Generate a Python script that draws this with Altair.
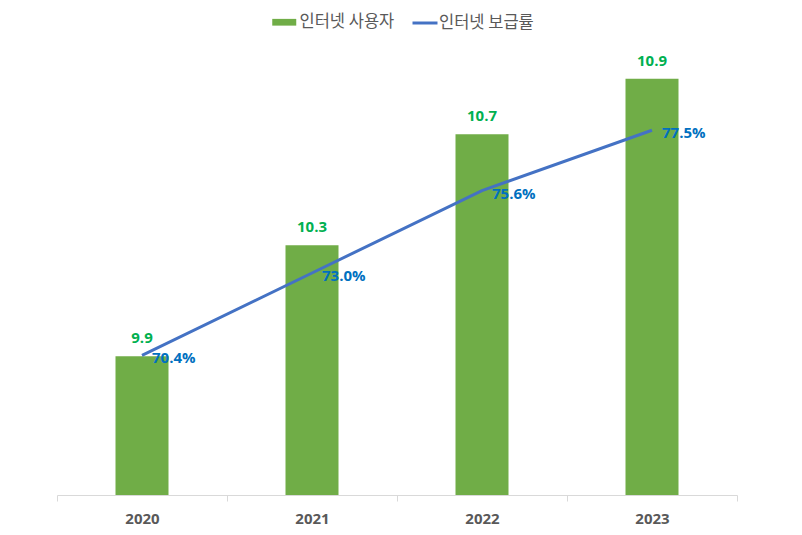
import altair as alt
import pandas as pd

years = ["2020", "2021", "2022", "2023"]
users = [9.9, 10.3, 10.7, 10.9]
rates = [70.4, 73.0, 75.6, 77.5]
rate_labels = ["70.4%", "73.0%", "75.6%", "77.5%"]

df = pd.DataFrame({
    "year": years,
    "users": users,
    "rate": rates,
    "rate_label": rate_labels,
    "s1": ["인터넷 사용자"] * 4,
    "s2": ["인터넷 보급률"] * 4,
})

FONT = "Open Sans"
KFONT = "Noto Sans CJK KR"

x = alt.X("year:N", title=None, scale=alt.Scale(paddingInner=0, paddingOuter=0),
          axis=alt.Axis(labelAngle=0, labelFont=FONT, labelFontWeight="bold", labelFontSize=15,
                        labelColor="#595959", domainColor="#d9d9d9", tickColor="#d9d9d9",
                        tickSize=6, tickBand="extent", labelPadding=10, grid=False))

ybar = alt.Y("users:Q", scale=alt.Scale(domain=[9.4, 11.0], zero=False, nice=False), axis=None)
yline = alt.Y("rate:Q", scale=alt.Scale(domain=[66, 80], zero=False, nice=False), axis=None)

base = alt.Chart(df)

bars = base.mark_bar(size=53, clip=True).encode(
    x=x, y=ybar,
    color=alt.Color("s1:N", scale=alt.Scale(range=["#70AD47"]),
                    legend=alt.Legend(title=None, orient="none", legendX=219, legendY=-37,
                                      symbolType="M-1.6,-0.45H1.6V0.45H-1.6Z", symbolSize=225,
                                      symbolStrokeWidth=0, labelFont=KFONT, labelFontSize=16.5,
                                      labelBaseline="middle",
                                      labelColor="#595959", labelOffset=7)),
)
bar_text = base.mark_text(font=FONT, fontWeight="bold", fontSize=15, color="#00B050", dy=-18).encode(
    x=x, y=ybar, text=alt.Text("users:Q", format=".1f"))

line = base.mark_line(strokeWidth=3).encode(
    x=x, y=yline,
    stroke=alt.Stroke("s2:N", scale=alt.Scale(range=["#4472C4"]),
                      legend=alt.Legend(title=None, orient="none", legendX=354, legendY=-42,
                                        symbolType="stroke", symbolSize=625, symbolStrokeWidth=3,
                                        labelFont=KFONT, labelFontSize=16.5, labelColor="#595959",
                                        labelBaseline="middle", labelOffset=0)),
)
line_text = base.mark_text(font=FONT, fontWeight="bold", fontSize=15, color="#0070C0",
                           align="left", dx=10, dy=3).encode(
    x=x, y=yline, text="rate_label:N")

chart = alt.layer(
    alt.layer(bars, bar_text),
    alt.layer(line, line_text),
).resolve_scale(y="independent", color="independent", stroke="independent").properties(
    width=680, height=444,
    background="white",
    autosize=alt.AutoSizeParams(type="none"),
    padding={"left": 49, "top": 43, "right": 57, "bottom": 32},
).configure_view(stroke="transparent", strokeWidth=0)

chart.save("out.html", embed_options={"renderer": "svg", "actions": False})
